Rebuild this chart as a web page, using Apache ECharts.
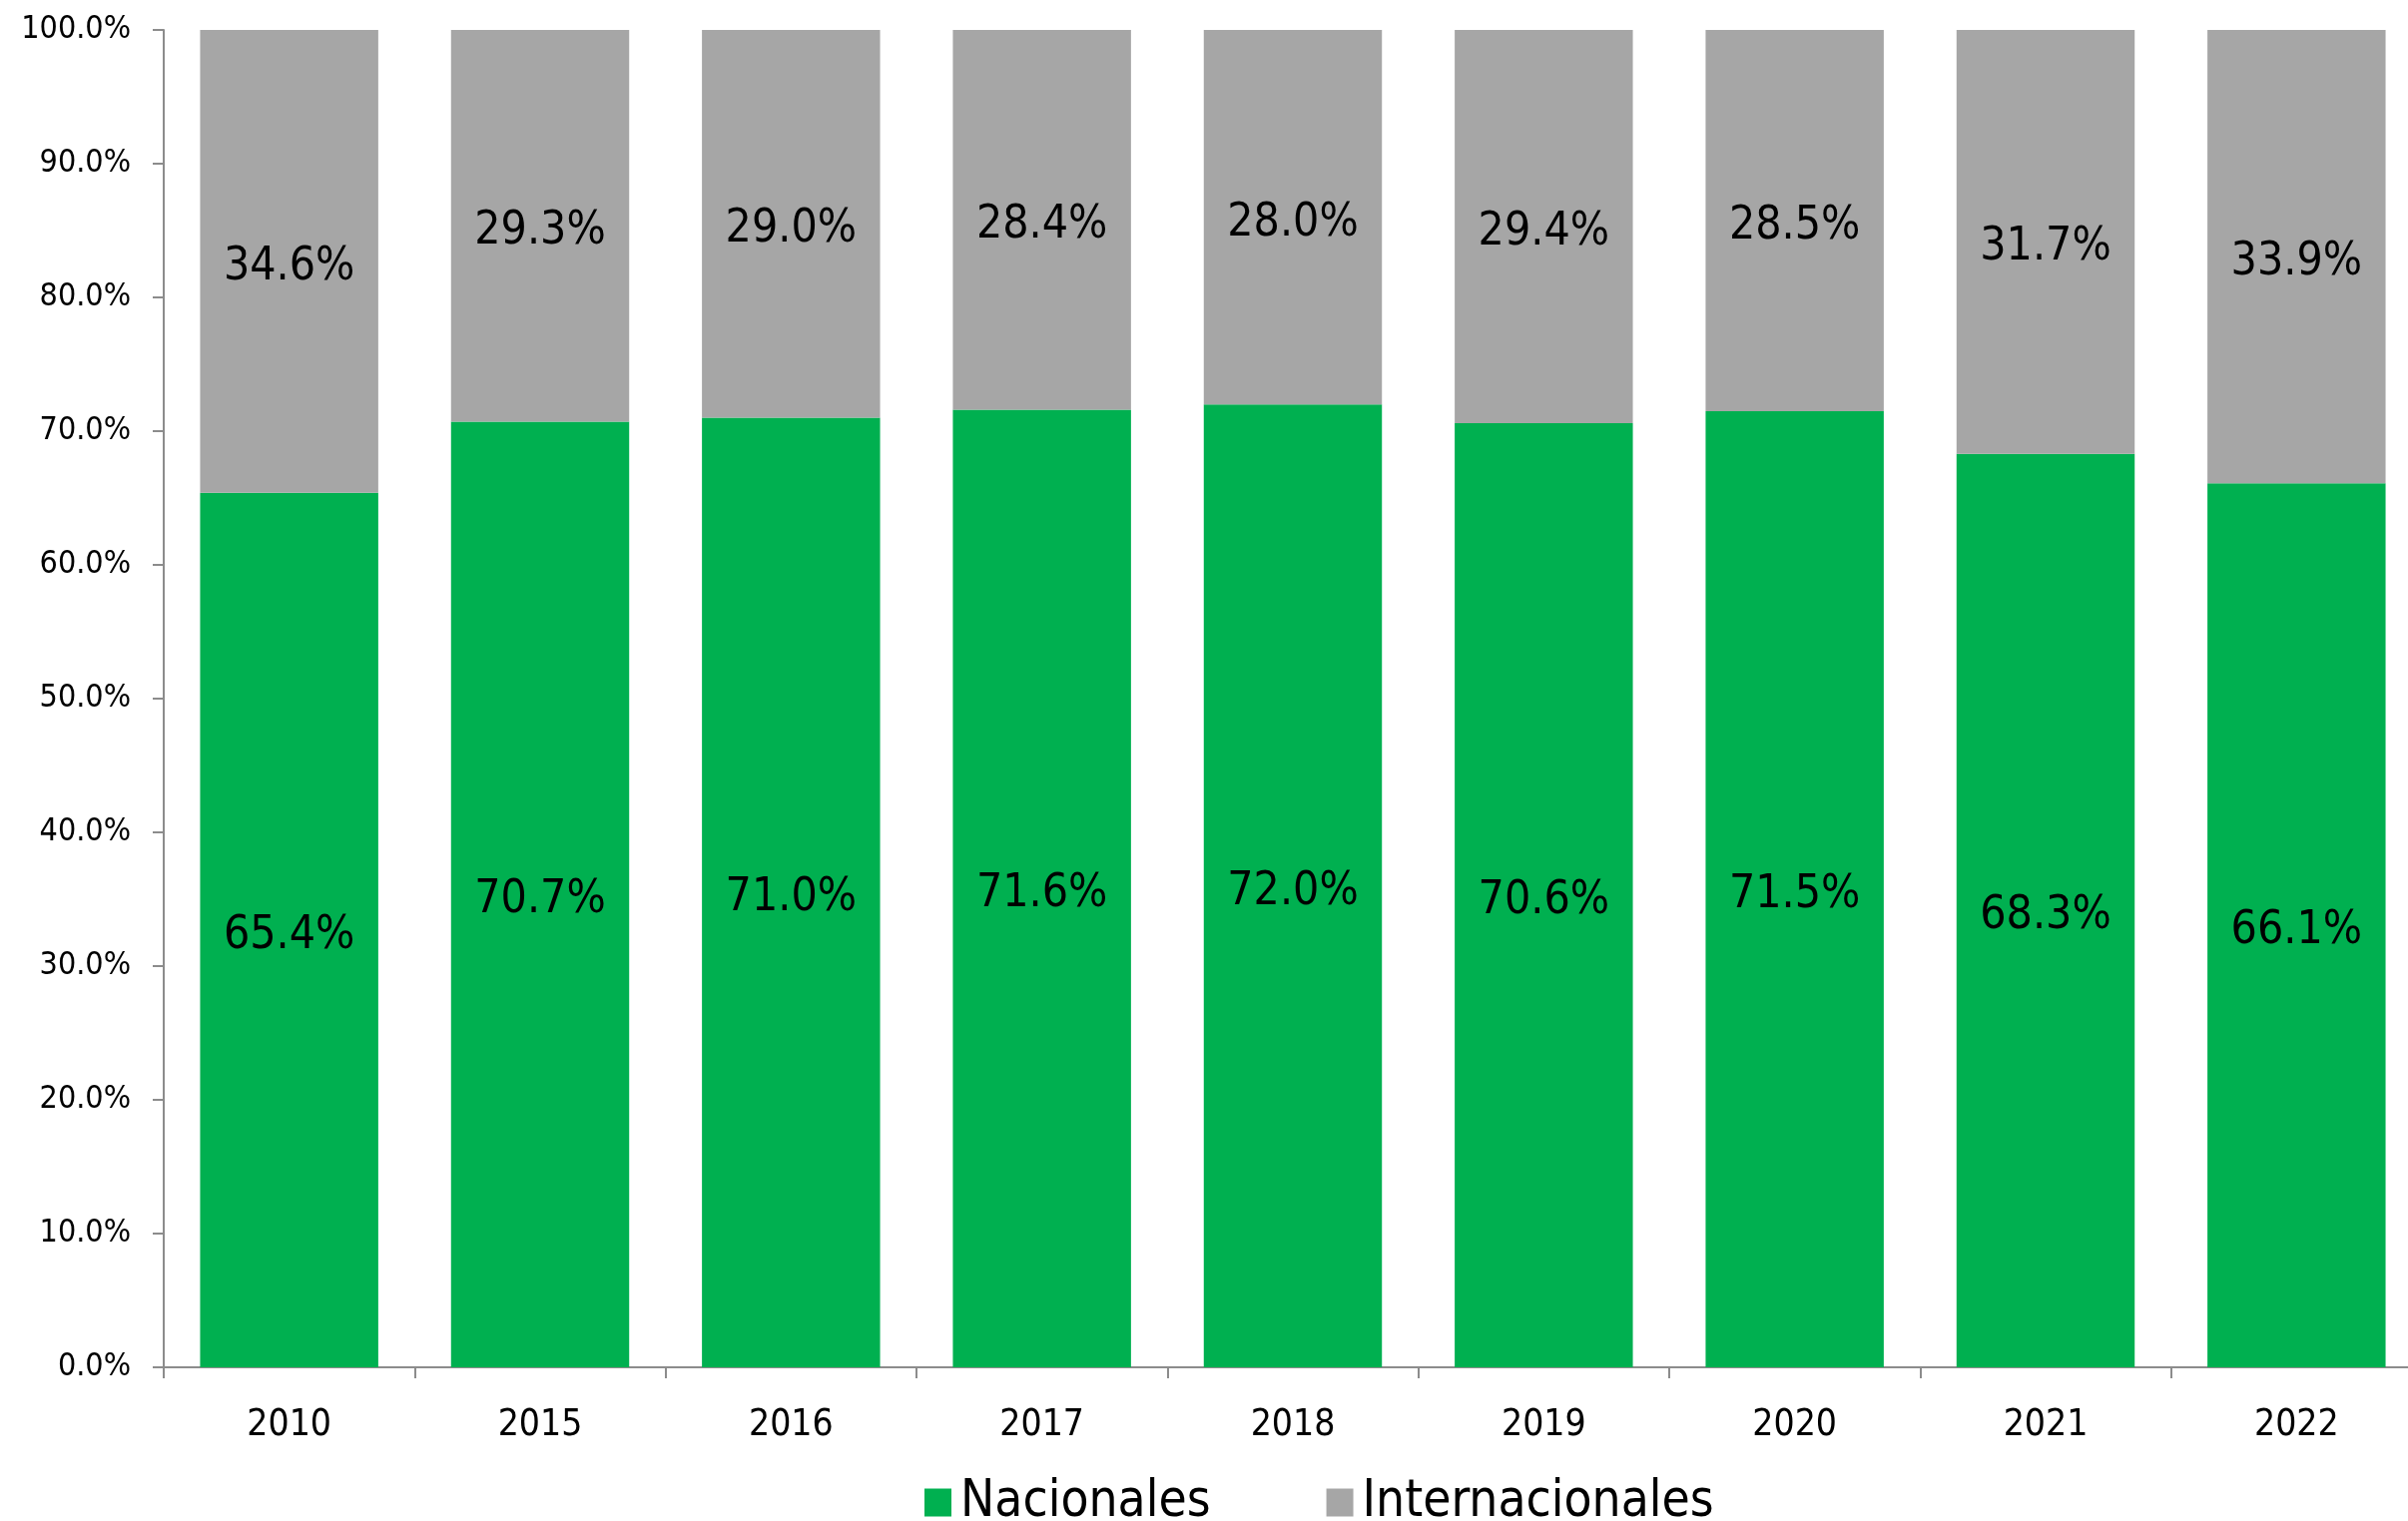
<!DOCTYPE html>
<html>
<head>
<meta charset="utf-8">
<script src="https://cdn.jsdelivr.net/npm/echarts@6/dist/echarts.min.js"></script>
<style>
  html, body { margin: 0; padding: 0; background: #fff; }
  #chart { width: 2412px; height: 1524px; }
</style>
</head>
<body>
<div id="chart"></div>
<script>
const years = ['2010', '2015', '2016', '2017', '2018', '2019', '2020', '2021', '2022']
const nacionales = [65.4, 70.7, 71.0, 71.6, 72.0, 70.6, 71.5, 68.3, 66.1]
const internacionales = [34.6, 29.3, 29.0, 28.4, 28.0, 29.4, 28.5, 31.7, 33.9]

const font = '"DejaVu Sans Condensed", "DejaVu Sans", sans-serif'
const axisGray = '#8c8c8c'

const chart = echarts.init(document.getElementById('chart'))

const barLabel = {
  show: true,
  position: 'inside',
  offset: [0, 6],
  color: '#000',
  fontFamily: font,
  fontSize: 46,
  formatter: p => p.value.toFixed(1) + '%'
}

chart.setOption({
  animation: false,
  backgroundColor: '#fff',
  // plot runs slightly past the right edge, like the original
  grid: { left: 164, width: 2262, top: 30, bottom: 154, containLabel: false, outerBoundsMode: 'none' },
  legend: {
    left: 921,
    top: 1475,
    itemWidth: 27,
    itemHeight: 28,
    itemGap: 116,
    icon: 'rect',
    textStyle: { fontFamily: font, fontSize: 51, color: '#000', padding: [0, 0, 0, 4] },
    data: ['Nacionales', 'Internacionales']
  },
  xAxis: {
    type: 'category',
    data: years,
    axisLine: { lineStyle: { color: axisGray, width: 2 } },
    axisTick: { show: true, length: 11, lineStyle: { color: axisGray, width: 2 } },
    axisLabel: { color: '#000', fontFamily: font, fontSize: 37, margin: 40 }
  },
  yAxis: {
    type: 'value',
    min: 0,
    max: 100,
    interval: 10,
    splitLine: { show: false },
    axisLine: { show: true, lineStyle: { color: axisGray, width: 2 } },
    axisTick: { show: true, length: 11, lineStyle: { color: axisGray, width: 2 } },
    axisLabel: {
      color: '#000',
      fontFamily: font,
      fontSize: 32,
      margin: 33,
      formatter: v => v.toFixed(1) + '%'
    }
  },
  series: [
    {
      name: 'Nacionales',
      type: 'bar',
      stack: 'total',
      data: nacionales,
      barWidth: '71%',
      itemStyle: { color: '#00B050' },
      label: barLabel
    },
    {
      name: 'Internacionales',
      type: 'bar',
      stack: 'total',
      data: internacionales,
      barWidth: '71%',
      itemStyle: { color: '#A6A6A6' },
      label: barLabel
    }
  ]
})
</script>
</body>
</html>
